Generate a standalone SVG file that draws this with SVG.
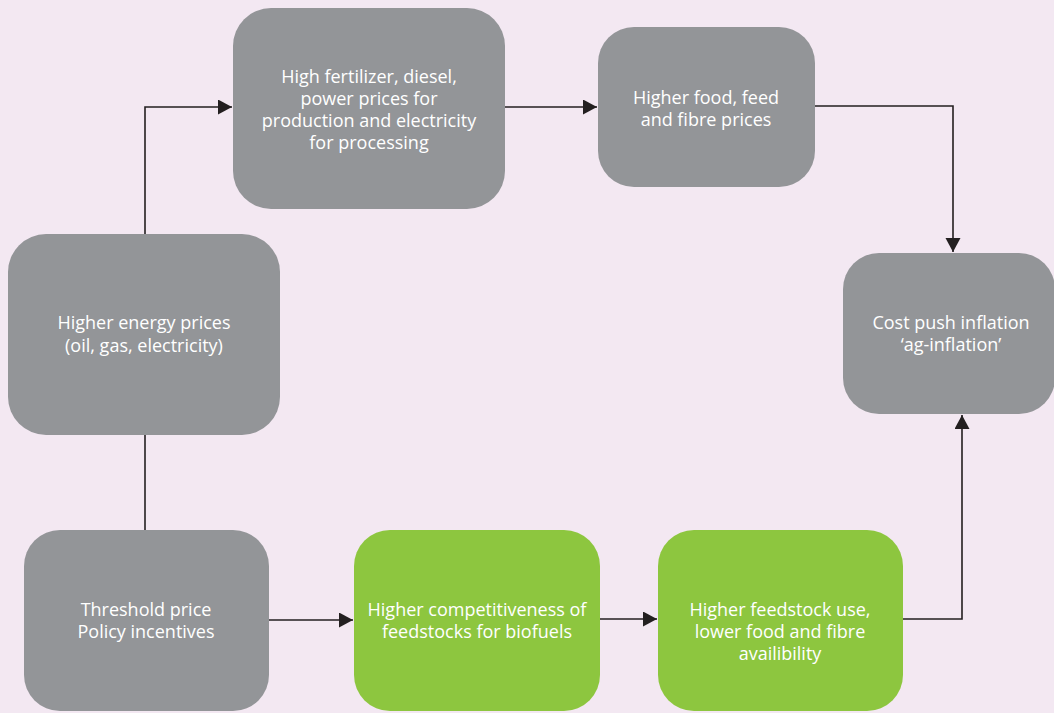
<svg xmlns="http://www.w3.org/2000/svg" width="1054" height="713" viewBox="0 0 1054 713">
<style>
.bg{fill:#f3e8f2}
.g{fill:#939598}
.gr{fill:#8dc63f}
.t{font-family:"Open Sans","Noto Sans",sans-serif;font-size:18px;fill:#ffffff;text-anchor:middle}
.c{fill:none;stroke:#231f20;stroke-width:1.6}
</style>
<defs>
<marker id="ah" markerUnits="userSpaceOnUse" markerWidth="15" markerHeight="16" refX="14" refY="7.5" orient="auto">
<path d="M0,0 L14,7.5 L0,15 z" fill="#231f20"/>
</marker>
</defs>
<rect class="bg" x="0" y="0" width="1054" height="713"/>
<g id="connectors">
<path class="c" d="M145,234 V107 H232" marker-end="url(#ah)"/>
<path class="c" d="M505,107 H597" marker-end="url(#ah)"/>
<path class="c" d="M815,106 H953 V252" marker-end="url(#ah)"/>
<path class="c" d="M145,530 V435"/>
<path class="c" d="M269,620 H353" marker-end="url(#ah)"/>
<path class="c" d="M600,619 H657" marker-end="url(#ah)"/>
<path class="c" d="M903,619 H962 V415" marker-end="url(#ah)"/>
</g>
<g id="n-fertilizer">
<rect class="g" x="233" y="8" width="272" height="201" rx="38"/>
<text class="t" x="369" y="83">High fertilizer, diesel,</text>
<text class="t" x="369" y="105">power prices for</text>
<text class="t" x="369" y="127">production and electricity</text>
<text class="t" x="369" y="149">for processing</text>
</g>
<g id="n-food">
<rect class="g" x="598" y="27" width="217" height="160" rx="36"/>
<text class="t" x="706" y="104">Higher food, feed</text>
<text class="t" x="706" y="126">and fibre prices</text>
</g>
<g id="n-inflation">
<rect class="g" x="843" y="253" width="212" height="161" rx="36"/>
<text class="t" x="951" y="329">Cost push inflation</text>
<text class="t" x="951" y="351">‘ag-inflation’</text>
</g>
<g id="n-energy">
<rect class="g" x="8" y="234" width="272" height="201" rx="38"/>
<text class="t" x="144" y="329">Higher energy prices</text>
<text class="t" x="144" y="352">(oil, gas, electricity)</text>
</g>
<g id="n-threshold">
<rect class="g" x="24" y="530" width="245" height="181" rx="36"/>
<text class="t" x="146" y="616">Threshold price</text>
<text class="t" x="146" y="638">Policy incentives</text>
</g>
<g id="n-competitiveness">
<rect class="gr" x="354" y="530" width="246" height="181" rx="36"/>
<text class="t" x="477" y="616">Higher competitiveness of</text>
<text class="t" x="477" y="638">feedstocks for biofuels</text>
</g>
<g id="n-feedstock">
<rect class="gr" x="658" y="530" width="245" height="181" rx="36"/>
<text class="t" x="780" y="616">Higher feedstock use,</text>
<text class="t" x="780" y="638">lower food and fibre</text>
<text class="t" x="780" y="660">availibility</text>
</g>
</svg>
